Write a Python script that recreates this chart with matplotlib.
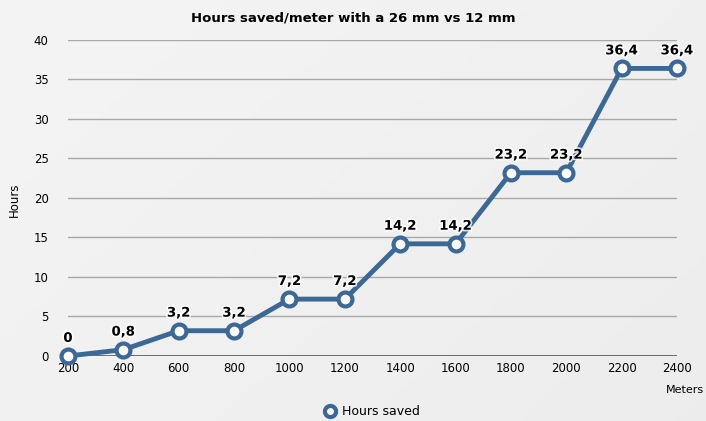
import matplotlib
matplotlib.use("Agg")
import matplotlib.pyplot as plt
import matplotlib.patheffects as pe
import numpy as np

meters = [200, 400, 600, 800, 1000, 1200, 1400, 1600, 1800, 2000, 2200, 2400]
hours = [0, 0.8, 3.2, 3.2, 7.2, 7.2, 14.2, 14.2, 23.2, 23.2, 36.4, 36.4]
labels = ["0", "0,8", "3,2", "3,2", "7,2", "7,2", "14,2", "14,2", "23,2", "23,2", "36,4", "36,4"]
yticks = [0, 5, 10, 15, 20, 25, 30, 35, 40]

color = "#3b6896"

fig = plt.figure(figsize=(7.06, 4.21), dpi=100)

# background gradient
bg = fig.add_axes([0, 0, 1, 1], zorder=-10)
gx, gy = np.meshgrid(np.linspace(0, 1, 200), np.linspace(0, 1, 120))
grad = 0.955 - 0.03 * (0.6 * gx + 0.4 * gy)
bg.imshow(grad, cmap="gray", vmin=0, vmax=1, aspect="auto", extent=[0, 1, 0, 1])
bg.axis("off")

ax = fig.add_axes([0.0963, 0.1544, 0.959 - 0.0963, 0.905 - 0.1544])
ax.patch.set_alpha(0)
ax.set_xlim(200, 2400)
ax.set_ylim(0, 40)
for s in ax.spines.values():
    s.set_visible(False)
for t in yticks[1:]:
    ax.axhline(t, color="#a8a8a8", lw=1, zorder=1)
ax.axhline(0, color="#555555", lw=1.2, zorder=1)

ax.plot(meters, hours, color=color, lw=3.5, marker="o", markersize=10,
        markerfacecolor="white", markeredgecolor=color, markeredgewidth=3,
        zorder=3, clip_on=False, label="Hours saved")

for x, y, l in zip(meters, hours, labels):
    ax.annotate(l, (x, y), xytext=(0, 8), textcoords="offset points",
                ha="center", va="bottom", fontsize=9.5, fontweight="bold",
                color="black", zorder=5,
                path_effects=[pe.withStroke(linewidth=2.5, foreground="#ffffffcc")])

ax.set_xticks(meters)
ax.set_xticklabels([str(m) for m in meters], fontsize=8.5)
ax.set_yticks(yticks)
ax.set_yticklabels([str(t) for t in yticks], fontsize=8.5)
ax.tick_params(length=0, pad=4)
ax.tick_params(axis="y", pad=14)

fig.text(0.5, 0.957, "Hours saved/meter with a 26 mm vs 12 mm", ha="center",
         va="center", fontsize=9.5, fontweight="bold")
fig.text(0.997, 0.073, "Meters", ha="right", va="center", fontsize=8)
fig.text(0.02, 0.525, "Hours", ha="center", va="center", rotation=90, fontsize=8.5)

ax.legend(loc="upper center", bbox_to_anchor=(0.5, -0.12), frameon=False,
          fontsize=9, handlelength=0.8, handletextpad=0.6, markerscale=0.8)

fig.savefig("out.png", dpi=100)
